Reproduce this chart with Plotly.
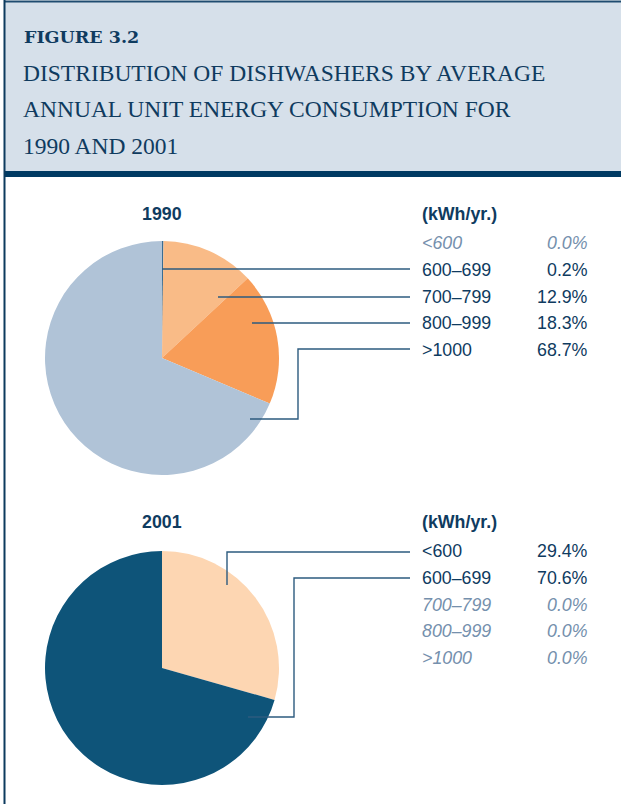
import plotly.graph_objects as go

# ---------------- data ----------------
categories = ["<600", "600–699", "700–799", "800–999", ">1000"]
shares_1990 = [0.0, 0.2, 12.9, 18.3, 68.7]
shares_2001 = [29.4, 70.6, 0.0, 0.0, 0.0]
colors_1990 = ["#f3f3f3", "#3a6d93", "#f9bb87", "#f89d58", "#b0c3d7"]
colors_2001 = ["#fdd6b2", "#0e5479", "#cccccc", "#cccccc", "#cccccc"]
years = ["1990", "2001"]
unit_label = "(kWh/yr.)"
fig_label = "FIGURE 3.2"
title_lines = ["DISTRIBUTION OF DISHWASHERS BY AVERAGE",
               "ANNUAL UNIT ENERGY CONSUMPTION FOR",
               "1990 AND 2001"]

# ---------------- layout constants (pixels) ----------------
W, H = 621, 804
NAVY = "#0f3b5f"
MUTED = "#7590ad"
LEADER = "#2d5b7f"
FS = 17.8


def px(x):
    return x / W


def py(y):
    return 1 - y / H


panels = [
    dict(year=years[0], shares=shares_1990, colors=colors_1990,
         cx=162, cy=358, r=117, title_y=214, unit_y=214,
         rows=[243, 270, 296.5, 323, 350],
         leaders={1: [(162, 269), (410, 269)],
                  2: [(218, 297), (410, 297)],
                  3: [(252, 323), (410, 323)],
                  4: [(250, 419), (298, 419), (298, 349), (410, 349)]}),
    dict(year=years[1], shares=shares_2001, colors=colors_2001,
         cx=162, cy=668, r=117, title_y=522, unit_y=522,
         rows=[551, 578, 604.5, 631, 658],
         leaders={0: [(227, 585), (227, 552), (410, 552)],
                  1: [(248, 717), (294, 717), (294, 578), (410, 578)]}),
]

fig = go.Figure()
shapes = []
annotations = []

# header
shapes.append(dict(type="rect", xref="paper", yref="paper",
                   x0=px(4), x1=1.0, y0=py(171), y1=py(1.5),
                   fillcolor="#d6e0ea", line=dict(width=0), layer="below"))
shapes.append(dict(type="rect", xref="paper", yref="paper",
                   x0=px(4), x1=1.0, y0=py(177), y1=py(171),
                   fillcolor="#003a63", line=dict(width=0)))
shapes.append(dict(type="line", xref="paper", yref="paper",
                   x0=px(4), x1=1.0, y0=py(1.5), y1=py(1.5),
                   line=dict(color="#1f4c70", width=2)))
shapes.append(dict(type="line", xref="paper", yref="paper",
                   x0=px(4.5), x1=px(4.5), y0=0, y1=py(0),
                   line=dict(color="#0d3b5e", width=2)))

annotations.append(dict(text="<b>" + fig_label + "</b>", xref="paper", yref="paper",
                        x=px(22), y=py(37), xanchor="left", yanchor="middle",
                        showarrow=False,
                        font=dict(family="DejaVu Serif", size=17.5, color=NAVY)))
for i, line in enumerate(title_lines):
    annotations.append(dict(text=line, xref="paper", yref="paper",
                            x=px(21), y=py(73 + 36.5 * i), xanchor="left", yanchor="middle",
                            showarrow=False,
                            font=dict(family="Liberation Serif", size=23.5, color=NAVY)))

for p in panels:
    r = p["r"]
    fig.add_trace(go.Pie(
        labels=categories, values=p["shares"], sort=False, direction="clockwise",
        rotation=0, textinfo="none", hoverinfo="label+percent", showlegend=False,
        marker=dict(colors=p["colors"], line=dict(width=0)),
        domain=dict(x=[px(p["cx"] - r), px(p["cx"] + r)],
                    y=[py(p["cy"] + r), py(p["cy"] - r)]),
    ))
    annotations.append(dict(text="<b>" + p["year"] + "</b>", xref="paper", yref="paper",
                            x=px(p["cx"]), y=py(p["title_y"]), xanchor="center", yanchor="middle",
                            showarrow=False,
                            font=dict(family="Liberation Sans", size=FS, color=NAVY)))
    annotations.append(dict(text="<b>" + unit_label + "</b>", xref="paper", yref="paper",
                            x=px(420), y=py(p["unit_y"]), xanchor="left", yanchor="middle",
                            showarrow=False,
                            font=dict(family="Liberation Sans", size=FS, color=NAVY)))
    for cat, val, ry in zip(categories, p["shares"], p["rows"]):
        pct = f"{val:.1f}%"
        if val == 0:
            ctext, ptext, col = "<i>" + cat + "</i>", "<i>" + pct + "</i>", MUTED
        else:
            ctext, ptext, col = cat, pct, NAVY
        annotations.append(dict(text=ctext, xref="paper", yref="paper",
                                x=px(420), y=py(ry), xanchor="left", yanchor="middle",
                                showarrow=False,
                                font=dict(family="Liberation Sans", size=FS, color=col)))
        annotations.append(dict(text=ptext, xref="paper", yref="paper",
                                x=px(590), y=py(ry), xanchor="right", yanchor="middle",
                                showarrow=False,
                                font=dict(family="Liberation Sans", size=FS, color=col)))
    for idx, pts in p["leaders"].items():
        path = "M " + " L ".join(f"{px(x):.5f},{py(y):.5f}" for x, y in pts)
        shapes.append(dict(type="path", xref="paper", yref="paper", path=path,
                           line=dict(color=LEADER, width=1.4)))

fig.update_layout(width=W, height=H, margin=dict(l=0, r=0, t=0, b=0),
                  paper_bgcolor="white", plot_bgcolor="white",
                  shapes=shapes, annotations=annotations)

fig.write_html("out.html", config={"displayModeBar": False},
               post_script="document.body.style.margin='0';"
                           "document.body.style.overflow='hidden';"
                           "document.documentElement.style.overflow='hidden';")
